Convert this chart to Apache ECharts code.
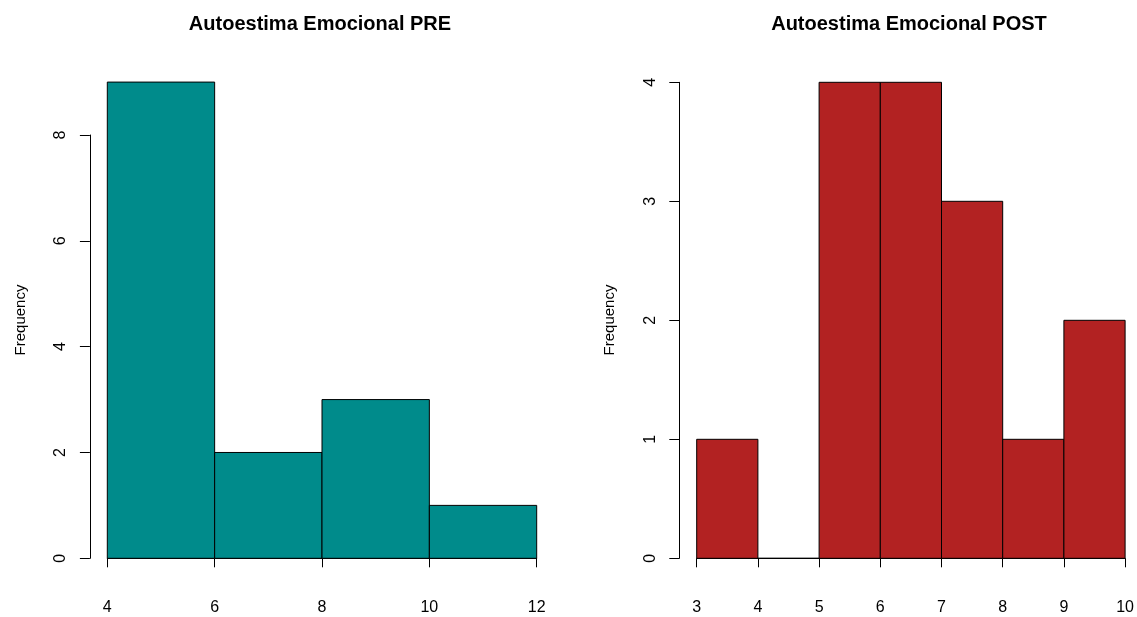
<!DOCTYPE html>
<html>
<head>
<meta charset="utf-8">
<script src="https://cdn.jsdelivr.net/npm/echarts@6/dist/echarts.min.js"></script>
<style>
  html, body { margin: 0; padding: 0; background: #ffffff; }
  #chart { width: 1137px; height: 617px; }
</style>
</head>
<body>
<div id="chart"></div>
<script>
// Histogram bin edges and counts
const preBreaks = [4, 6, 8, 10, 12];
const preCounts = [9, 2, 3, 1];
const postBreaks = [3, 4, 5, 6, 7, 8, 9, 10];
const postCounts = [1, 0, 4, 4, 3, 1, 2];

// Axis tick values
const preXTicks = [4, 6, 8, 10, 12];
const preYTicks = [0, 2, 4, 6, 8];
const postXTicks = [3, 4, 5, 6, 7, 8, 9, 10];
const postYTicks = [0, 1, 2, 3, 4];

const titles = ['Autoestima Emocional PRE', 'Autoestima Emocional POST'];
const yName = 'Frequency';

const FONT = 'Liberation Sans, Arial, sans-serif';

function bins(breaks, counts) {
  return counts.map((c, i) => [breaks[i], breaks[i + 1], c]);
}

// One rectangle per bin, from the bin's lower edge to its upper edge
function renderBin(params, api) {
  const lo = api.value(0), hi = api.value(1), n = api.value(2);
  const a = api.coord([lo, 0]);
  const b = api.coord([hi, n]);
  return {
    type: 'rect',
    shape: { x: a[0], y: b[1], width: b[0] - a[0], height: a[1] - b[1] },
    style: { fill: api.visual('color'), stroke: '#000000', lineWidth: 1 }
  };
}

function xAxisFor(gi, ticks) {
  return {
    gridIndex: gi, type: 'value',
    min: ticks[0], max: ticks[ticks.length - 1], interval: ticks[1] - ticks[0],
    offset: 19.4,
    splitLine: { show: false },
    axisLine: { show: true, lineStyle: { color: '#000', width: 1 } },
    axisTick: { show: true, length: 9, lineStyle: { color: '#000', width: 1 } },
    axisLabel: { margin: 22, fontSize: 16, color: '#000', fontFamily: FONT, showMinLabel: true, showMaxLabel: true }
  };
}

function yAxisFor(gi, ticks) {
  return {
    gridIndex: gi, type: 'value',
    min: ticks[0], max: ticks[ticks.length - 1], interval: ticks[1] - ticks[0],
    offset: 17.4,
    splitLine: { show: false },
    axisLine: { show: true, lineStyle: { color: '#000', width: 1 } },
    axisTick: { show: true, length: 10, lineStyle: { color: '#000', width: 1 } },
    axisLabel: { rotate: 90, margin: 21, fontSize: 16, color: '#000', fontFamily: FONT, showMinLabel: true, showMaxLabel: true }
  };
}

const chart = echarts.init(document.getElementById('chart'), null, { renderer: 'canvas' });

chart.setOption({
  backgroundColor: '#ffffff',
  animation: false,
  title: [
    { text: titles[0], left: 315, top: 9, textAlign: 'center',
      textStyle: { fontSize: 20, fontWeight: 'bold', color: '#000', fontFamily: FONT } },
    { text: titles[1], left: 904, top: 9, textAlign: 'center',
      textStyle: { fontSize: 20, fontWeight: 'bold', color: '#000', fontFamily: FONT } }
  ],
  grid: [
    { left: 107.3, top: 135, width: 429.4, height: 423.3 },
    { left: 696.7, top: 82.3, width: 430, height: 476 }
  ],
  xAxis: [xAxisFor(0, preXTicks), xAxisFor(1, postXTicks)],
  yAxis: [yAxisFor(0, preYTicks), yAxisFor(1, postYTicks)],
  graphic: [
    { type: 'text', x: 20.5, y: 320, rotation: Math.PI / 2,
      style: { text: yName, font: '15px ' + FONT, fill: '#000', align: 'center', verticalAlign: 'middle' } },
    { type: 'text', x: 609.5, y: 320, rotation: Math.PI / 2,
      style: { text: yName, font: '15px ' + FONT, fill: '#000', align: 'center', verticalAlign: 'middle' } }
  ],
  series: [
    { type: 'custom', name: titles[0], xAxisIndex: 0, yAxisIndex: 0,
      itemStyle: { color: '#008B8B' }, renderItem: renderBin,
      encode: { x: [0, 1], y: 2 }, data: bins(preBreaks, preCounts) },
    { type: 'custom', name: titles[1], xAxisIndex: 1, yAxisIndex: 1,
      itemStyle: { color: '#B22222' }, renderItem: renderBin,
      encode: { x: [0, 1], y: 2 }, data: bins(postBreaks, postCounts) }
  ]
});
</script>
</body>
</html>
